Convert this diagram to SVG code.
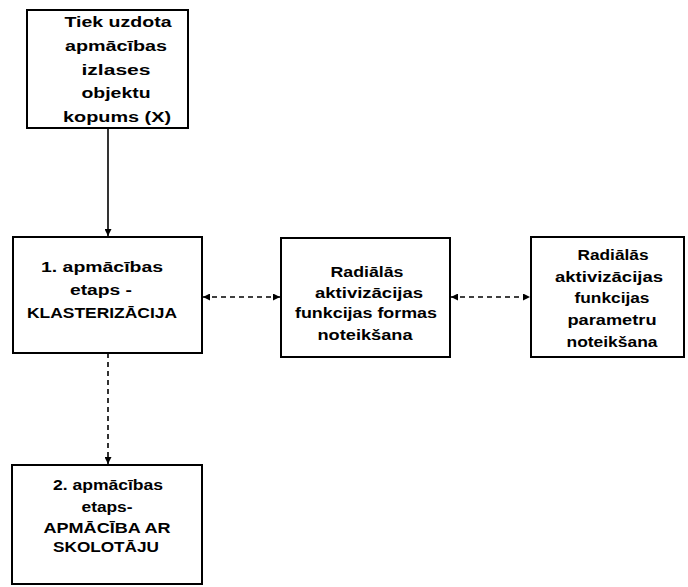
<svg xmlns="http://www.w3.org/2000/svg" width="688" height="587" viewBox="0 0 688 587">
<defs>
<marker id="ah" viewBox="0 0 10 10" refX="10" refY="5" markerWidth="7" markerHeight="7" orient="auto-start-reverse" markerUnits="userSpaceOnUse">
<path d="M0,0 L10,5 L0,10 z" fill="#000"/>
</marker>
<style>
.box{fill:#fff;stroke:#000;stroke-width:2}
.t{font-family:"Liberation Sans",Arial,sans-serif;font-weight:bold;font-size:14px;fill:#000;text-anchor:middle}
.c{stroke:#000;stroke-width:1.6;fill:none}
.d{stroke-dasharray:5,4}
</style>
</defs>
<rect width="688" height="587" fill="#fff"/>
<g id="connectors">
<line class="c" x1="108" y1="128" x2="108" y2="236" marker-end="url(#ah)"/>
<line class="c d" x1="108" y1="353" x2="108" y2="464" marker-end="url(#ah)"/>
<line class="c d" x1="203" y1="297" x2="280" y2="297" marker-start="url(#ah)" marker-end="url(#ah)"/>
<line class="c d" x1="451" y1="297" x2="530" y2="297" marker-start="url(#ah)" marker-end="url(#ah)"/>
</g>
<g id="n1">
<rect class="box" x="27" y="10" width="161" height="118"/>
<text class="t" x="118" y="27" textLength="107" lengthAdjust="spacingAndGlyphs">Tiek uzdota</text>
<text class="t" x="116" y="51" textLength="102" lengthAdjust="spacingAndGlyphs">apmācības</text>
<text class="t" x="116" y="75" textLength="69" lengthAdjust="spacingAndGlyphs">izlases</text>
<text class="t" x="116" y="98" textLength="69" lengthAdjust="spacingAndGlyphs">objektu</text>
<text class="t" x="117" y="122" textLength="108" lengthAdjust="spacingAndGlyphs">kopums (X)</text>
</g>
<g id="n2">
<rect class="box" x="13" y="237" width="189" height="116"/>
<text class="t" x="102" y="272" textLength="122" lengthAdjust="spacingAndGlyphs">1. apmācības</text>
<text class="t" x="101" y="295" textLength="62" lengthAdjust="spacingAndGlyphs">etaps -</text>
<text class="t" x="102" y="318" textLength="150" lengthAdjust="spacingAndGlyphs">KLASTERIZĀCIJA</text>
</g>
<g id="n3">
<rect class="box" x="281" y="238" width="169" height="119"/>
<text class="t" x="367" y="277" textLength="73" lengthAdjust="spacingAndGlyphs">Radiālās</text>
<text class="t" x="369" y="298" textLength="108" lengthAdjust="spacingAndGlyphs">aktivizācijas</text>
<text class="t" x="366" y="318" textLength="142" lengthAdjust="spacingAndGlyphs">funkcijas formas</text>
<text class="t" x="365" y="340" textLength="95" lengthAdjust="spacingAndGlyphs">noteikšana</text>
</g>
<g id="n4">
<rect class="box" x="531" y="237" width="153" height="120"/>
<text class="t" x="613" y="260" textLength="71" lengthAdjust="spacingAndGlyphs">Radiālās</text>
<text class="t" x="609" y="282" textLength="108" lengthAdjust="spacingAndGlyphs">aktivizācijas</text>
<text class="t" x="612" y="303" textLength="75" lengthAdjust="spacingAndGlyphs">funkcijas</text>
<text class="t" x="612" y="325" textLength="89" lengthAdjust="spacingAndGlyphs">parametru</text>
<text class="t" x="612" y="347" textLength="91" lengthAdjust="spacingAndGlyphs">noteikšana</text>
</g>
<g id="n5">
<rect class="box" x="12" y="465" width="190" height="119"/>
<text class="t" x="108" y="490" textLength="110" lengthAdjust="spacingAndGlyphs">2. apmācības</text>
<text class="t" x="107" y="512" textLength="51" lengthAdjust="spacingAndGlyphs">etaps-</text>
<text class="t" x="107" y="533" textLength="127" lengthAdjust="spacingAndGlyphs">APMĀCĪBA AR</text>
<text class="t" x="106" y="552" textLength="106" lengthAdjust="spacingAndGlyphs">SKOLOTĀJU</text>
</g>
</svg>
